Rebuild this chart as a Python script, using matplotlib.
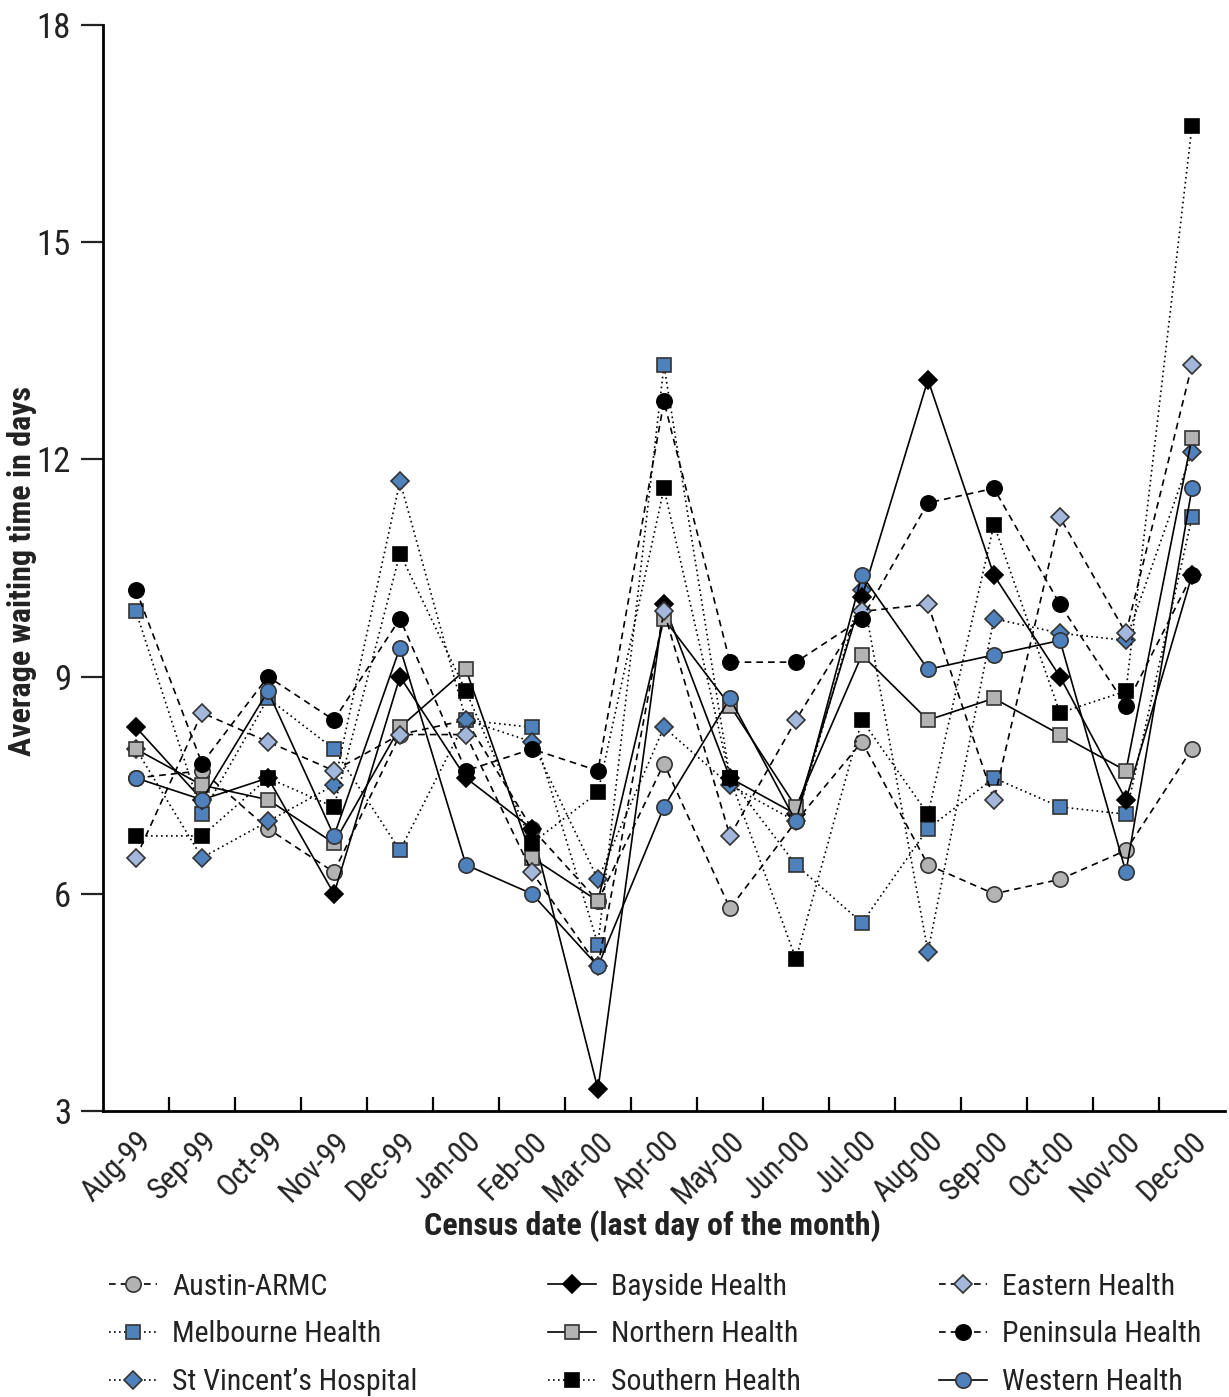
import numpy as np
import matplotlib
matplotlib.use("Agg")
import matplotlib.pyplot as plt
from matplotlib import font_manager as fm

# pick a narrow font if one is installed
installed = fm.fontManager.ttflist
narrow_names = ['Liberation Sans Narrow', 'Roboto Condensed', 'DejaVu Sans Condensed',
                'Noto Sans Condensed', 'Open Sans Condensed', 'Arial Narrow',
                'Nimbus Sans Narrow', 'Noto Sans ExtraCondensed']
family = None
stretch = 'normal'
names = {f.name for f in installed}
for n in narrow_names:
    if n in names:
        family = n
        break
if family is None:
    for f in installed:
        if 'condensed' in str(f.stretch) and f.name in ('Roboto', 'DejaVu Sans', 'Noto Sans', 'Open Sans', 'Lato', 'Inter'):
            family = f.name
            stretch = 'condensed'
            break
narrow = family is not None
if family is None:
    family = 'DejaVu Sans'
plt.rcParams['font.family'] = [family, 'DejaVu Sans']
plt.rcParams['font.stretch'] = stretch
k = 1.0 if narrow else 0.78

months = ['Aug-99', 'Sep-99', 'Oct-99', 'Nov-99', 'Dec-99', 'Jan-00', 'Feb-00', 'Mar-00',
          'Apr-00', 'May-00', 'Jun-00', 'Jul-00', 'Aug-00', 'Sep-00', 'Oct-00', 'Nov-00', 'Dec-00']

austin = [7.6, 7.7, 6.9, 6.3, 8.2, 8.4, 6.9, 5.9, 7.8, 5.8, 7.0, 8.1, 6.4, 6.0, 6.2, 6.6, 8.0]
bayside = [8.3, 7.3, 7.6, 6.0, 9.0, 7.6, 6.9, 3.3, 10.0, 7.6, 7.1, 10.1, 13.1, 10.4, 9.0, 7.3, 10.4]
eastern = [6.5, 8.5, 8.1, 7.7, 8.2, 8.2, 6.3, 5.0, 9.9, 6.8, 8.4, 9.9, 10.0, 7.3, 11.2, 9.6, 13.3]
melbourne = [9.9, 7.1, 8.7, 8.0, 6.6, 8.4, 8.3, 5.3, 13.3, 7.6, 6.4, 5.6, 6.9, 7.6, 7.2, 7.1, 11.2]
northern = [8.0, 7.5, 7.3, 6.7, 8.3, 9.1, 6.5, 5.9, 9.8, 8.6, 7.2, 9.3, 8.4, 8.7, 8.2, 7.7, 12.3]
peninsula = [10.2, 7.8, 9.0, 8.4, 9.8, 7.7, 8.0, 7.7, 12.8, 9.2, 9.2, 9.8, 11.4, 11.6, 10.0, 8.6, 10.4]
st_vincents = [8.0, 6.5, 7.0, 7.5, 11.7, 8.4, 8.1, 6.2, 8.3, 7.5, 7.0, 10.2, 5.2, 9.8, 9.6, 9.5, 12.1]
southern = [6.8, 6.8, 7.6, 7.2, 10.7, 8.8, 6.7, 7.4, 11.6, 7.6, 5.1, 8.4, 7.1, 11.1, 8.5, 8.8, 16.6]
western = [7.6, 7.3, 8.8, 6.8, 9.4, 6.4, 6.0, 5.0, 7.2, 8.7, 7.0, 10.4, 9.1, 9.3, 9.5, 6.3, 11.6]

blue = '#4f81bd'
light_blue = '#a3b7dc'
grey = '#b3b3b3'
dashed = (0, (4, 3))
dotted = (0, (1, 2))

# name, values, linestyle, marker, fill, marker size
series = [
    ('Austin-ARMC', austin, dashed, 'o', grey, 11),
    ('Melbourne Health', melbourne, dotted, 's', blue, 10),
    ('St Vincent\u2019s Hospital', st_vincents, dotted, 'D', blue, 9.5),
    ('Bayside Health', bayside, '-', 'D', 'black', 9.5),
    ('Northern Health', northern, '-', 's', grey, 10),
    ('Southern Health', southern, dotted, 's', 'black', 10),
    ('Eastern Health', eastern, dashed, 'D', light_blue, 9.5),
    ('Peninsula Health', peninsula, dashed, 'o', 'black', 11),
    ('Western Health', western, '-', 'o', blue, 11),
]

fig = plt.figure(figsize=(12.29, 13.97), dpi=100)
ax = fig.add_axes([0.0838, 0.2047, 0.9129, 0.7774])

x = np.arange(len(months))
handles = []
for name, vals, ls, mk, fc, ms in series:
    ec = '#333333' if fc != 'black' else 'black'
    h, = ax.plot(x, vals, color='black', linestyle=ls, linewidth=1.2,
                 marker=mk, markersize=ms, markerfacecolor=fc,
                 markeredgecolor=ec, markeredgewidth=1.2, label=name)
    handles.append(h)

ax.set_xlim(-0.5, len(months) - 0.5)
ax.set_ylim(3, 18)
ax.set_yticks([3, 6, 9, 12, 15, 18])
ax.tick_params(axis='y', direction='out', length=16, width=1.6, pad=7,
               labelsize=25 * k, colors='#222222')
ax.set_xticks(x)
ax.set_xticklabels(months, rotation=45, ha='right', va='top',
                   rotation_mode='anchor', fontsize=22 * k, color='#222222')
ax.tick_params(axis='x', which='major', length=0, pad=11)
ax.set_xticks(np.arange(0.5, len(months) - 1, 1), minor=True)
ax.tick_params(axis='x', which='minor', direction='in', length=10, width=1.6)

for s in ['top', 'right']:
    ax.spines[s].set_visible(False)
for s in ['left', 'bottom']:
    ax.spines[s].set_linewidth(2)

fig.text(0.5305, 0.1224, 'Census date (last day of the month)', fontsize=23 * k,
         fontweight='bold', ha='center', va='center', color='#222222')
fig.text(0.018, 0.591, 'Average waiting time in days', fontsize=23 * k,
         fontweight='bold', ha='center', va='center', rotation=90, color='#222222')

# legend: three columns of three entries
col_x = [0.089, 0.446, 0.764]
for i, cx in enumerate(col_x):
    fig.legend(handles=handles[i * 3:(i + 1) * 3], loc='upper left',
               bbox_to_anchor=(cx, 0.089), frameon=False, fontsize=21.5 * k,
               handlelength=1.6 / k, handletextpad=0.5 / k, labelspacing=0.66 / k,
               borderaxespad=0, borderpad=0, labelcolor='#222222')

fig.savefig('out.png', dpi=100)
